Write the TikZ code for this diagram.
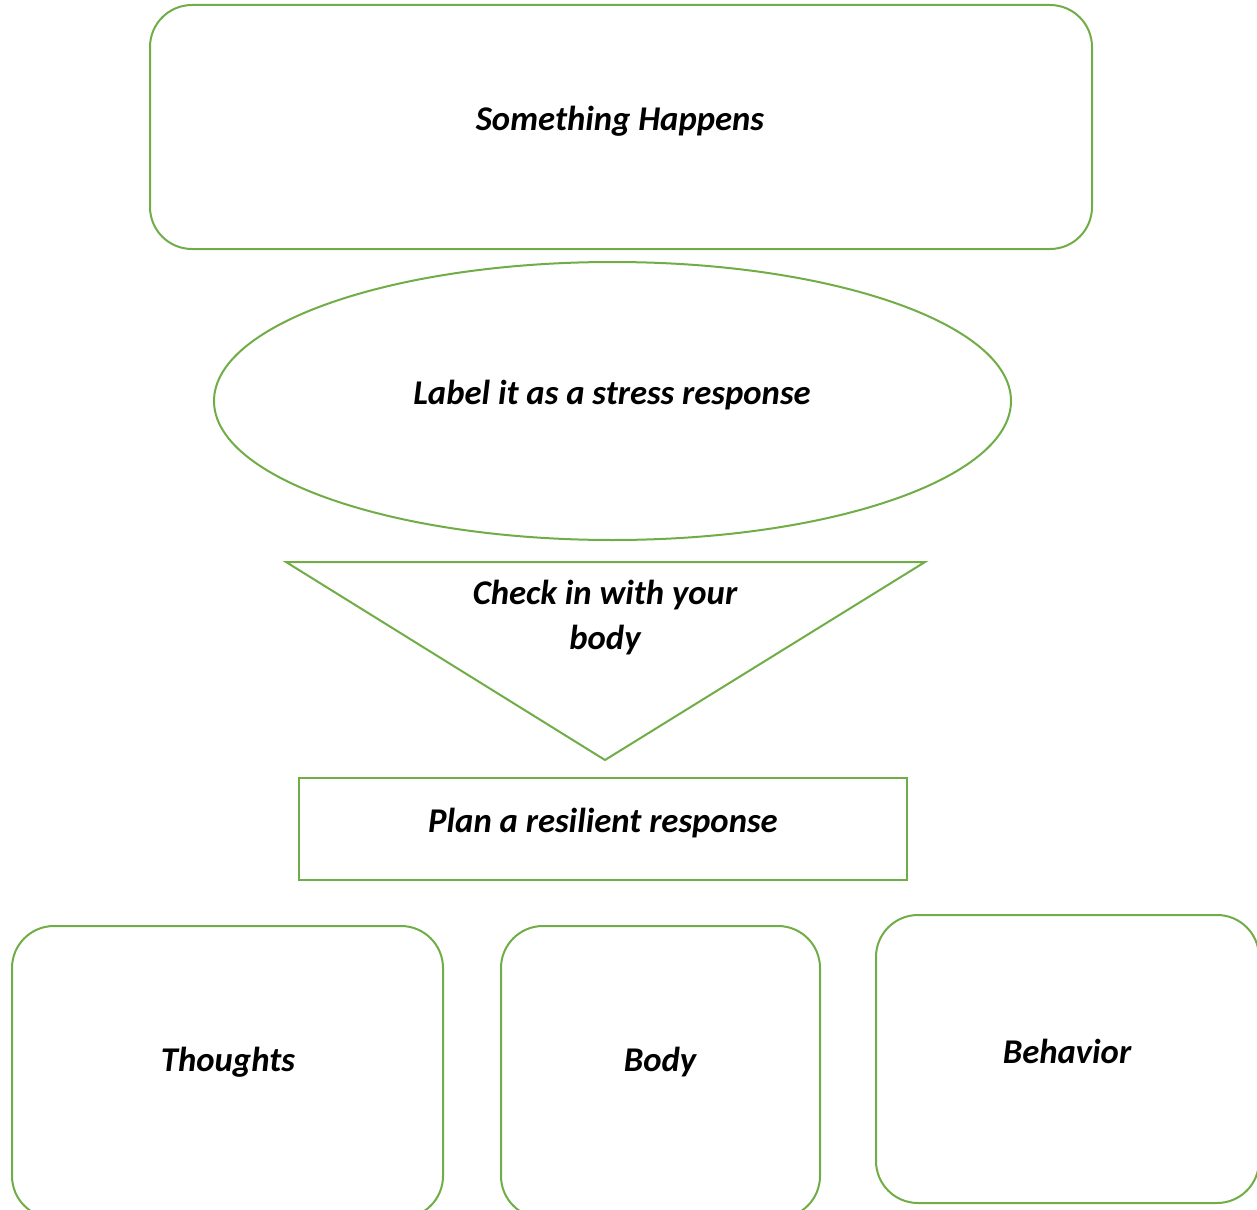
\documentclass[tikz,border=0pt]{standalone}
\usepackage{fontspec}
\setmainfont{Carlito}
\usepackage{xcolor}
\usetikzlibrary{shapes,calc,positioning}
\definecolor{leafgreen}{HTML}{70AD47}
\tikzset{
	shape line/.style={draw=leafgreen, line width=2pt},
	round box/.style={shape line, rectangle, rounded corners=42pt, inner sep=0pt},
	plain box/.style={shape line, rectangle, inner sep=0pt},
	oval box/.style={shape line, ellipse, inner sep=0pt},
	caption/.style={font=\fontsize{34.7}{45}\selectfont\bfseries\itshape, align=center, inner sep=0pt}
}

\begin{document}
\begin{tikzpicture}[x=1pt, y=-1pt]
			\useasboundingbox (0,0) rectangle (1257,1209);
			\clip (0,0) rectangle (1257,1209);
			% top box and ellipse
			\node [round box, minimum width=942, minimum height=244] (happens) at (621,127) {};
			\node [caption] (happenstext) at (620,121) {Something Happens};
			\node [oval box, minimum width=797, minimum height=278] (label) at (612.5,401) {};
			\node [caption] (labeltext) at (612,395) {Label it as a stress response};
			% triangle
			\draw [shape line, line join=miter] (286,562) -- (925,562) -- (605,760) -- cycle;
			\node [caption] (check) at (605,618) {Check in with your\\body};
			\node [plain box, minimum width=608, minimum height=102] (plan) at (603,829) {};
			\node [caption] (plantext) at (603,823) {Plan a resilient response};
			% bottom row
			\node [round box, minimum width=431, minimum height=292] (thoughts) at (227.5,1072) {};
			\node [caption] (thoughtstext) at (228,1062) {Thoughts};
			\node [round box, minimum width=319, minimum height=292] (body) at (660.5,1072) {};
			\node [caption] (bodytext) at (660,1062) {Body};
			\node [round box, minimum width=383, minimum height=288] (behavior) at (1067.5,1059) {};
			\node [caption] (behaviortext) at (1067,1051) {Behavior};
		\end{tikzpicture}
\end{document}
